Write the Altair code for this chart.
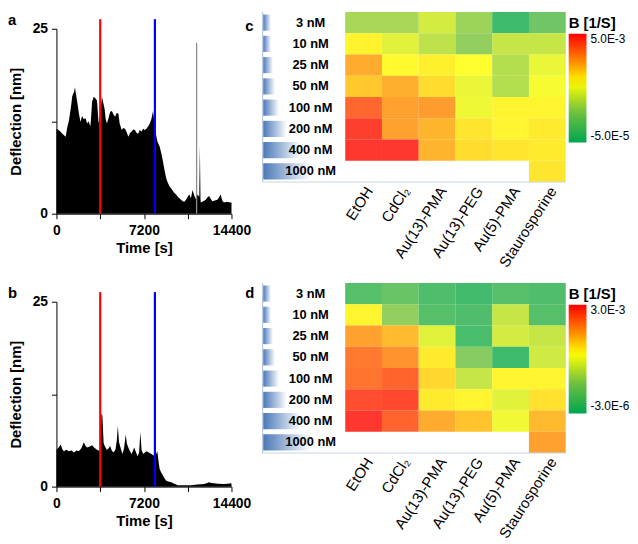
import altair as alt
import pandas as pd

FONT = "Liberation Sans"

# ---------------- data: panels a / b (deflection time series) ----------------
a_time = [0, 250, 488, 759, 900, 1030, 1200, 1302, 1450, 1519, 1600, 1709, 1850, 1980, 2100,
          2251, 2400, 2522, 2650, 2793, 2870, 2929, 3064, 3200, 3336, 3400, 3471, 3600, 3742,
          3850, 3959, 4050, 4149, 4300, 4420, 4556, 4700, 4827, 4950, 5098, 5200, 5370, 5500,
          5641, 5780, 5912, 6050, 6183, 6320, 6454, 6600, 6725, 6850, 6997, 7130, 7268, 7400,
          7539, 7680, 7810, 7946, 8050, 8136, 8299, 8489, 8620, 8760, 8900, 9031, 9160, 9302,
          9440, 9573, 9700, 9845, 9980, 10116, 10250, 10387, 10520, 10658, 10800, 10929, 11060,
          11200, 11350, 11472, 11600, 11750, 11800, 11850, 11879, 12080, 12285, 12420, 12557,
          12700, 12828, 13030, 13235, 13370, 13506, 13640, 13777, 14000, 14320, 14400]
a_defl = [11.5, 11.2, 10.8, 10.4, 11.8, 12.6, 14.5, 15.9, 16.5, 17.1, 16.2, 15.1, 13.5, 12.4, 13.2,
          12.8, 12.9, 12.2, 12.5, 11.8, 13.5, 15.1, 15.8, 15.6, 15.3, 13.8, 12.2, 13.5, 15.8,
          15.0, 14.2, 12.8, 12.2, 13.0, 13.8, 13.9, 13.4, 13.1, 13.6, 13.5, 12.2, 11.3, 11.6,
          11.5, 11.0, 10.4, 10.9, 11.1, 11.4, 11.3, 10.9, 10.8, 11.3, 11.1, 11.5, 11.3, 11.5,
          11.8, 12.2, 12.8, 13.9, 12.5, 11.2, 9.8, 9.1, 8.2, 7.1, 5.8, 4.8, 4.2, 3.7,
          3.4, 3.1, 2.8, 2.6, 2.3, 2.1, 1.9, 1.7, 1.6, 1.9, 2.3, 2.6, 2.1,
          3.2, 2.4, 2.0, 2.6, 2.3, 9.2, 2.0, 1.5, 1.7, 1.9, 2.2, 2.4,
          2.0, 1.7, 1.8, 1.9, 2.2, 2.6, 1.8, 1.5, 1.6, 1.5, 1.5]

b_time = [0, 180, 352, 500, 624, 800, 1030, 1250, 1437, 1650, 1844, 2050, 2251, 2400, 2522, 2700,
          2929, 3100, 3336, 3607, 3700, 3780, 3878, 4000, 4149, 4300, 4420, 4550, 4691, 4850,
          4963, 5050, 5150, 5234, 5424, 5560, 5695, 5800, 5912, 6050, 6183, 6400, 6550, 6671,
          6800, 6900, 7000, 7132, 7270, 7404, 7600, 7810, 8000, 8082, 8200, 8299, 8400, 8489,
          8620, 8760, 8900, 9031, 9200, 9438, 9700, 9980, 10500, 11065, 11600, 12150, 12400,
          12557, 12750, 12964, 13300, 13777, 14100, 14320, 14400]
b_defl = [5.0, 5.3, 5.7, 5.0, 4.8, 5.0, 4.8, 4.9, 4.6, 4.9, 4.8, 5.2, 6.0, 5.5, 5.3, 5.4,
          5.6, 5.3, 5.0, 4.8, 9.9, 9.6, 5.9, 5.4, 5.0, 5.2, 5.5, 4.9, 4.6, 5.0,
          6.2, 8.2, 6.0, 5.5, 4.4, 5.2, 7.0, 5.8, 5.3, 4.8, 4.4, 5.3, 4.6, 4.1,
          4.6, 7.4, 5.0, 4.4, 4.6, 4.8, 4.6, 4.4, 4.2, 4.1, 4.4, 4.8, 3.4, 2.4,
          1.9, 1.5, 1.1, 0.8, 0.7, 0.6, 0.4, 0.2, 0.2, 0.2, 0.3, 0.35, 0.5,
          0.6, 0.5, 0.45, 0.4, 0.35, 0.4, 0.45, 0.4]

marker_times = [3600, 8100]
marker_colors = ["#ff0000", "#0000ff"]
marker_top = 26.3
a_spike_time = [11530]
a_spike_top = [23.1]

# ---------------- data: panels c / d (heat maps) ----------------
concs = ["3 nM", "10 nM", "25 nM", "50 nM", "100 nM", "200 nM", "400 nM", "1000 nM"]
conc_bar = [8, 8, 10, 12, 16, 24, 38, 48]
treatments = ["EtOH", "CdCl\u2082", "Au(13)-PMA", "Au(13)-PEG", "Au(5)-PMA", "Staurosporine"]

# B in units of 1e-3 1/s
c_values = [
    [1.72, 1.72, 2.22, 1.57, 0.20, 0.96],
    [2.85, 2.37, 1.97, 1.47, 2.07, 2.07],
    [3.59, 2.78, 2.88, 2.73, 1.87, 2.48],
    [3.28, 3.54, 3.08, 2.48, 1.87, 2.63],
    [4.34, 3.69, 3.74, 2.53, 2.83, 2.83],
    [4.80, 3.69, 3.49, 2.98, 2.83, 2.93],
    [4.90, 4.90, 3.49, 3.08, 2.98, 2.93],
    [None, None, None, None, None, 2.98],
]
d_values = [
    [0.36, 0.54, 0.30, 0.18, 0.36, 0.30],
    [1.71, 0.90, 0.36, 0.30, 1.26, 0.36],
    [2.22, 2.07, 1.44, 0.24, 1.35, 1.26],
    [2.49, 2.31, 1.77, 0.81, 0.15, 1.32],
    [2.52, 2.64, 1.89, 1.26, 1.71, 1.71],
    [2.79, 2.82, 1.77, 1.71, 1.44, 1.83],
    [2.94, 2.64, 2.16, 2.01, 1.56, 2.07],
    [None, None, None, None, None, 2.22],
]
c_range = [-0.05, 5.0]
d_range = [-0.003, 3.0]
c_legend_labels = ["-5.0E-5", "5.0E-3"]
d_legend_labels = ["-3.0E-6", "3.0E-3"]

stop_fracs = [0.0, 0.28, 0.55, 0.74, 1.0]
heat_colors = ["#00a650", "#70c040", "#ffff00", "#ff8c00", "#ff0000"]


def letter_layer(letter, x, y):
    return alt.Chart(pd.DataFrame({"s": [letter]})).mark_text(
        align="left", baseline="alphabetic", fontSize=15, fontWeight="bold", font=FONT, color="black"
    ).encode(text="s:N", x=alt.value(x), y=alt.value(y))


def ts_chart(times, defl, letter, h, top, spike_t=None, spike_top=None):
    df = pd.DataFrame({"t": times, "v": defl})
    xs = alt.Scale(domain=[0, 14400], nice=False, zero=False)
    ys = alt.Scale(domain=[0, 25], range=[h, top], nice=False, zero=False)
    area = alt.Chart(df).mark_area(color="black", interpolate="linear").encode(
        x=alt.X("t:Q", scale=xs, axis=alt.Axis(
            values=[0, 3600, 7200, 10800, 14400], format="d",
            labelExpr="datum.value % 7200 == 0 ? datum.label : ''",
            title="Time [s]", grid=False, domainColor="black", tickColor="black",
            tickSize=5, labelPadding=5, labelFont=FONT, labelFontSize=14, labelFontWeight="bold",
            labelColor="black", titleFont=FONT, titleFontSize=15, titleFontWeight="bold",
            titleColor="black", titlePadding=3, labelFlush=False)),
        y=alt.Y("v:Q", scale=ys, axis=alt.Axis(
            values=[0, 12.5, 25], format="d",
            labelExpr="datum.value == 12.5 ? '' : datum.label",
            title="Deflection [nm]", grid=False, domainColor="black", tickColor="black",
            tickSize=5, labelPadding=4, labelFont=FONT, labelFontSize=14, labelFontWeight="bold",
            labelColor="black", titleFont=FONT, titleFontSize=15, titleFontWeight="bold",
            titleColor="black", titlePadding=9, labelFlush=False)),
    )
    layers = [area]
    if spike_t:
        sp = pd.DataFrame({"t": spike_t, "y0": [0] * len(spike_t), "y1": spike_top})
        layers.append(alt.Chart(sp).mark_rule(color="#8c8c8c", strokeWidth=1.3).encode(
            x="t:Q", y="y0:Q", y2="y1:Q"))
    mk = pd.DataFrame({"t": marker_times, "y0": [0, 0], "y1": [marker_top, marker_top],
                       "c": marker_colors})
    layers.append(alt.Chart(mk).mark_rule(strokeWidth=2.2).encode(
        x="t:Q", y="y0:Q", y2="y1:Q", color=alt.Color("c:N", scale=None)))
    layers.append(letter_layer(letter, -49, 13 if letter == "a" else 15))
    return alt.layer(*layers).properties(width=177, height=h)


def heat_chart(values, vrange, labels, letter, letter_y, h):
    rows = []
    for ci, conc in enumerate(concs):
        for ti, tr in enumerate(treatments):
            v = values[ci][ti]
            if v is not None:
                rows.append({"conc": conc, "treat": tr, "B": v})
    df = pd.DataFrame(rows)
    vmin, vmax = vrange
    dom = [vmin + f * (vmax - vmin) for f in stop_fracs]
    ys = alt.Scale(domain=concs, paddingInner=0, paddingOuter=0)
    mid = 0.5 * (vmin + vmax)
    rect = alt.Chart(df).mark_rect(opacity=0.82).encode(
        x=alt.X("treat:N", scale=alt.Scale(domain=treatments, range=[84, 307],
                                           paddingInner=0, paddingOuter=0),
                axis=alt.Axis(title=None, labelAngle=303, domain=False, ticks=False,
                              labelFontSize=15, labelFont=FONT, labelColor="black",
                              labelPadding=2, labelLimit=200, labelBaseline="top")),
        y=alt.Y("conc:N", scale=ys, axis=None),
        color=alt.Color("B:Q", scale=alt.Scale(domain=dom, range=heat_colors, interpolate="rgb"),
                        legend=alt.Legend(
                            title="B [1/S]", orient="none", legendX=310, legendY=4,
                            direction="vertical", gradientLength=110, gradientThickness=18,
                            values=[vmin, vmax], gradientOpacity=1,
                            labelExpr=f"datum.value > {mid} ? '{labels[1]}' : '{labels[0]}'",
                            titleFont=FONT, titleFontSize=15, titleFontWeight="bold",
                            titleColor="black", titlePadding=3, labelFont=FONT, labelFontSize=12,
                            labelColor="black", labelOffset=4, gradientStrokeWidth=0,
                            labelOverlap=False)),
    )
    ldf = pd.DataFrame({"conc": concs, "bar": conc_bar})
    grad = alt.LinearGradient(gradient="linear", x1=0, x2=1, y1=0, y2=0,
                              stops=[alt.GradientStop(color="#4a78b8", offset=0),
                                     alt.GradientStop(color="#ffffff", offset=1)])
    bars = alt.Chart(ldf).mark_bar(color=grad, height=alt.RelativeBandSize(0.76)).encode(
        x=alt.X("bar:Q", scale=alt.Scale(domain=[0, 80], range=[1, 81]), axis=None),
        y=alt.Y("conc:N", scale=ys, axis=None),
    )
    txt = alt.Chart(ldf).mark_text(fontWeight="bold", fontSize=13, font=FONT, color="black",
                                   align="center").encode(
        x=alt.value(49), y=alt.Y("conc:N", scale=ys, axis=None), text="conc:N")
    frame = alt.Chart(pd.DataFrame({"k": [0]})).mark_rule(color="#b8c8e0", strokeWidth=1.2).encode(
        x=alt.value(0.5), y=alt.value(0), y2=alt.value(h))
    bottom = alt.Chart(pd.DataFrame({"k": [0]})).mark_rule(color="#c8d4e6", strokeWidth=1).encode(
        x=alt.value(0), x2=alt.value(307), y=alt.value(h))
    return alt.layer(bars, txt, rect, frame, bottom, letter_layer(letter, -17, letter_y)).resolve_scale(
        x="independent").properties(width=307, height=h)


a = ts_chart(a_time, a_defl, "a", 204, 17, a_spike_time, a_spike_top)
c = heat_chart(c_values, c_range, c_legend_labels, "c", 19, 172)
b = ts_chart(b_time, b_defl, "b", 206, 19)
d = heat_chart(d_values, d_range, d_legend_labels, "d", 15, 172)

chart = alt.concat(a, c, b, d, columns=2, spacing={"row": 70, "column": 31},
                   bounds="flush").resolve_scale(color="independent").properties(
    padding=0).configure_view(stroke=None)

chart.save("out.html", embed_options={"renderer": "svg", "actions": False})
